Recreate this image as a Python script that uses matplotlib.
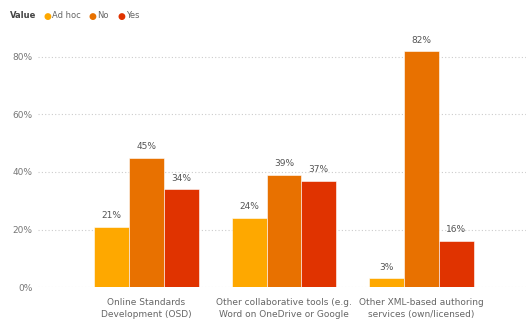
import numpy as np
import matplotlib.pyplot as plt

# survey answers per tool, share of respondents (%)
categories = ['Online Standards\nDevelopment (OSD)',
              'Other collaborative tools (e.g.\nWord on OneDrive or Google',
              'Other XML-based authoring\nservices (own/licensed)']
series = ['Ad hoc', 'No', 'Yes']
ad_hoc = [21, 24, 3]
no = [45, 39, 82]
yes = [34, 37, 16]
colors = ['#FEA800', '#E87100', '#E03300']

fig = plt.figure(figsize=(5.26, 3.2), dpi=100)
ax = fig.add_axes([0.072, 0.103, 0.928, 0.897])

x = np.arange(len(categories))
w = 0.253
for i, (vals, c) in enumerate(zip([ad_hoc, no, yes], colors)):
    bars = ax.bar(x + (i - 1) * w, vals, width=w, color=c,
                  edgecolor='white', linewidth=0.4, zorder=2)
    for b, v in zip(bars, vals):
        ax.text(b.get_x() + b.get_width() / 2, v + 2.3, f'{v}%',
                ha='center', va='bottom', fontsize=6.5, color='#555555')

ax.set_xlim(-0.79, 2.76)
ax.set_ylim(0, 99.8)
ax.set_yticks([0, 20, 40, 60, 80])
ax.set_yticklabels(['0%', '20%', '40%', '60%', '80%'])
ax.set_xticks(x)
ax.set_xticklabels(categories, fontsize=6.5, color='#666666', linespacing=1.35)
ax.tick_params(axis='y', labelsize=6.5, labelcolor='#777777', length=0, pad=4)
ax.tick_params(axis='x', length=0, pad=8)
ax.grid(axis='y', color='#cccccc', linestyle=(0, (1, 2)), linewidth=0.8, zorder=0)
for s in ax.spines.values():
    s.set_visible(False)

# legend row along the top
ly = 1 - 16 / 320
fig.text(10 / 526, ly, 'Value', fontsize=6, fontweight='bold',
         color='#444444', va='center')
lx = [47, 92, 121]
for px, name, c in zip(lx, series, colors):
    fig.text(px / 526, ly, '\u25cf', fontsize=6.5, color=c,
             va='center', ha='center')
    fig.text((px + 5) / 526, ly, name, fontsize=6,
             color='#666666', va='center')

plt.savefig('out.png', dpi=100)
